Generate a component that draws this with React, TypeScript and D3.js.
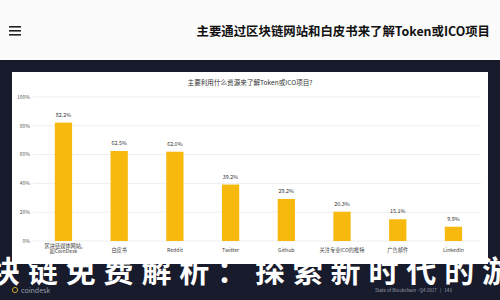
import React from "react";
import * as d3 from "d3";

const categories = [
  "区块链媒体网站,|如CoinDesk",
  "白皮书",
  "Reddit",
  "Twitter",
  "Github",
  "关注专业ICO的推特",
  "广告邮件",
  "LinkedIn",
];
const values = [82.2, 62.5, 62.0, 39.2, 29.2, 20.3, 15.1, 9.9];
const yTicks = [0, 20, 40, 60, 80, 100];
const headerTitle = "主要通过区块链网站和白皮书来了解Token或ICO项目";
const chartTitle = "主要利用什么资源来了解Token或ICO项目?";
const overlayText = "块链免费解析：探索新时代的游";
const footerText = "State of Blockchain - Q4 2017   |   143";

const W = 500;
const H = 300;
const NAVY = "#171b2c";
const GOLD = "#f7b90d";
const FONT = "'Noto Sans CJK SC', 'Noto Sans', sans-serif";

export default function App() {
  const x = d3
    .scaleBand<string>()
    .domain(categories)
    .range([35.6, 481.3])
    .paddingInner(0.69)
    .paddingOuter(0.345);
  const y = d3.scaleLinear().domain([0, 100]).range([241, 97]);

  return (
    <svg
      width={W}
      height={H}
      viewBox={`0 0 ${W} ${H}`}
      style={{ position: "fixed", top: 0, left: 0, display: "block" }}
      fontFamily={FONT}
    >
      <rect x={0} y={0} width={W} height={H} fill="#fbfbfb" />
      {/* header */}
      <g fill="#222">
        {[0, 1, 2].map((i) => (
          <rect key={i} x={9} y={26 + i * 4} width={12} height={1.6} />
        ))}
      </g>
      <text
        x={490}
        y={36}
        textAnchor="end"
        fontSize={12.4}
        fontWeight={700}
        fill="#111"
      >
        {headerTitle}
      </text>
      {/* navy frame */}
      <rect x={0} y={60} width={W} height={H - 60} fill={NAVY} />
      {/* card */}
      <rect x={12} y={72} width={476} height={192} fill="#ffffff" />
      <text x={250} y={85} textAnchor="middle" fontSize={6.6} fill="#333">
        {chartTitle}
      </text>
      {/* grid + y ticks */}
      {yTicks.map((t) => (
        <g key={t}>
          <line
            x1={33}
            x2={481}
            y1={y(t)}
            y2={y(t)}
            stroke="#e6e6e6"
            strokeWidth={0.7}
          />
          <text
            x={30}
            y={y(t) + 1.8}
            textAnchor="end"
            fontSize={5}
            fill="#555"
          >
            {t}%
          </text>
        </g>
      ))}
      {/* bars */}
      {categories.map((c, i) => (
        <g key={c}>
          <rect
            x={x(c)}
            y={y(values[i])}
            width={x.bandwidth()}
            height={y(0) - y(values[i])}
            fill={GOLD}
          />
          <text
            x={(x(c) as number) + x.bandwidth() / 2}
            y={y(values[i]) - 6}
            textAnchor="middle"
            fontSize={5.4}
            fill="#333"
          >
            {values[i].toFixed(1)}%
          </text>
          {c.split("|").map((line, j, arr) => (
            <text
              key={j}
              x={(x(c) as number) + x.bandwidth() / 2}
              y={arr.length > 1 ? 247.5 + j * 5.8 : 251.5}
              textAnchor="middle"
              fontSize={5.2}
              fill="#444"
            >
              {line}
            </text>
          ))}
        </g>
      ))}
      {/* overlay calligraphy-like text */}
      <text
        x={-10}
        y={282}
        fontSize={30}
        fontWeight={700}
        fill="#ffffff"
        textLength={522}
        lengthAdjust="spacing"
      >
        {overlayText}
      </text>
      {/* footer */}
      <circle cx={15} cy={290} r={2.6} fill="none" stroke="#c9a227" strokeWidth={1} />
      <text x={21} y={292.5} fontSize={7} fill="#9aa0ad">
        coindesk
      </text>
      <text x={375} y={292} fontSize={4.6} fill="#9aa0ad" style={{ whiteSpace: "pre" }}>
        {footerText}
      </text>
    </svg>
  );
}
